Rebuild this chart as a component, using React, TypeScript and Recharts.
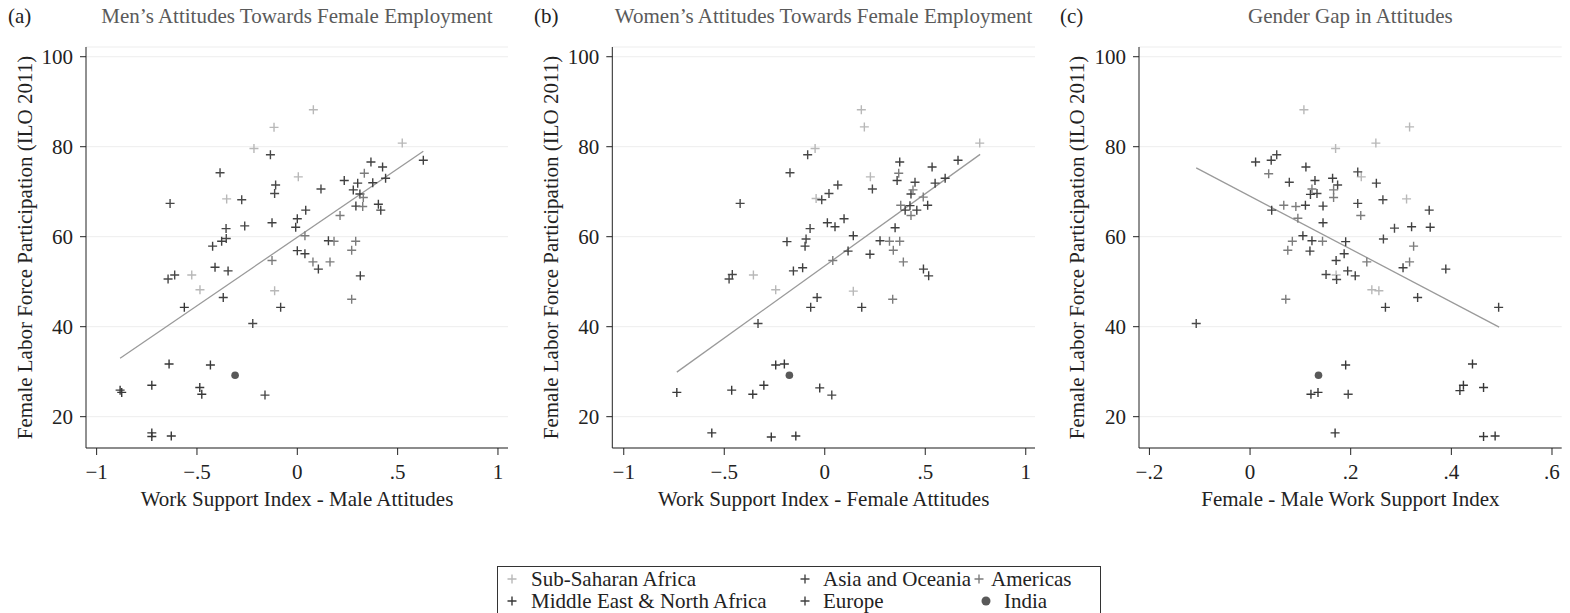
import React from "react";
import { ScatterChart, Scatter, XAxis, YAxis, CartesianGrid, ReferenceLine } from "recharts";

// x, y, region code
type Pt = [number, number, string];

const REGION_CODES = ["S", "M", "A", "E", "R", "I"];
const REGION_NAMES = [
  "Sub-Saharan Africa",
  "Middle East & North Africa",
  "Asia and Oceania",
  "Europe",
  "Americas",
  "India",
];
const REGION_COLORS = ["#b8b8b8", "#383838", "#484848", "#404040", "#7c7c7c", "#595959"];

const PANEL_TAGS = ["(a)", "(b)", "(c)"];
const PANEL_TITLES = [
  "Men\u2019s Attitudes Towards Female Employment",
  "Women\u2019s Attitudes Towards Female Employment",
  "Gender Gap in Attitudes",
];
const X_LABELS = [
  "Work Support Index - Male Attitudes",
  "Work Support Index - Female Attitudes",
  "Female - Male Work Support Index",
];
const Y_LABEL = "Female Labor Force Participation (ILO 2011)";

const Y_TICKS = [20, 40, 60, 80, 100];
const INDEX_TICKS = [-1, -0.5, 0, 0.5, 1];
const GAP_TICKS = [-0.2, 0, 0.2, 0.4, 0.6];

// panel (a): male attitudes vs FLFP
const MALE_PTS: Pt[] = [
  [-0.116, 84.3, "S"], [-0.216, 79.6, "S"], [-0.134, 78.2, "A"], [-0.385, 74.2, "A"],
  [0.005, 73.3, "S"], [-0.108, 71.5, "A"], [-0.113, 69.6, "A"], [-0.634, 67.4, "A"],
  [-0.352, 68.4, "S"], [-0.277, 68.2, "A"], [-0.355, 61.8, "A"], [-0.262, 62.4, "A"],
  [-0.126, 63.1, "E"], [0.0, 64.0, "E"], [-0.008, 62.1, "E"], [-0.354, 59.6, "A"],
  [-0.377, 59.0, "E"], [-0.422, 57.9, "E"], [0.0, 56.9, "E"], [-0.126, 54.7, "R"],
  [-0.41, 53.2, "E"], [-0.345, 52.4, "E"], [-0.644, 50.6, "A"], [-0.611, 51.5, "A"],
  [-0.526, 51.5, "S"], [-0.485, 48.2, "S"], [-0.113, 48.0, "S"], [-0.369, 46.5, "E"],
  [-0.563, 44.3, "M"], [-0.083, 44.3, "E"], [-0.222, 40.7, "A"], [-0.639, 31.7, "M"],
  [-0.433, 31.5, "M"], [-0.31, 29.2, "I"], [-0.725, 27.0, "M"], [-0.883, 25.9, "M"],
  [-0.875, 25.4, "M"], [-0.486, 26.5, "M"], [-0.476, 25.0, "M"], [-0.161, 24.8, "A"],
  [-0.725, 16.4, "M"], [-0.725, 15.6, "M"], [-0.628, 15.7, "M"], [0.08, 88.2, "S"],
  [0.523, 80.8, "S"], [0.628, 77.0, "E"], [0.367, 76.6, "E"], [0.425, 75.5, "E"],
  [0.334, 74.1, "R"], [0.234, 72.5, "E"], [0.301, 71.9, "E"], [0.376, 72.0, "E"],
  [0.44, 73.0, "E"], [0.118, 70.6, "A"], [0.279, 70.4, "E"], [0.312, 69.5, "E"],
  [0.329, 68.7, "R"], [0.292, 66.8, "E"], [0.326, 66.7, "R"], [0.404, 67.2, "E"],
  [0.416, 65.9, "E"], [0.213, 64.7, "R"], [0.042, 65.9, "E"], [0.038, 60.2, "R"],
  [0.155, 59.1, "E"], [0.183, 59.0, "R"], [0.291, 59.0, "R"], [0.271, 57.0, "R"],
  [0.038, 56.2, "E"], [0.078, 54.4, "R"], [0.163, 54.4, "R"], [0.105, 52.8, "E"],
  [0.314, 51.3, "E"], [0.271, 46.1, "R"],
];

// panel (b): female attitudes vs FLFP
const FEMALE_PTS: Pt[] = [
  [-0.048, 79.6, "S"], [-0.085, 78.2, "A"], [-0.173, 74.2, "A"], [-0.421, 67.4, "A"],
  [-0.043, 68.5, "S"], [-0.015, 68.2, "A"], [-0.073, 61.8, "A"], [-0.188, 58.9, "E"],
  [-0.093, 59.5, "A"], [-0.098, 57.9, "E"], [-0.156, 52.4, "E"], [-0.11, 53.1, "E"],
  [-0.46, 51.6, "A"], [-0.476, 50.6, "A"], [-0.355, 51.5, "S"], [-0.244, 48.2, "S"],
  [-0.038, 46.5, "E"], [-0.07, 44.3, "E"], [-0.332, 40.7, "A"], [-0.244, 31.5, "M"],
  [-0.201, 31.7, "M"], [-0.176, 29.2, "I"], [-0.736, 25.4, "M"], [-0.463, 25.9, "M"],
  [-0.358, 25.0, "M"], [-0.303, 27.0, "M"], [-0.025, 26.4, "M"], [-0.562, 16.4, "M"],
  [-0.266, 15.5, "M"], [-0.144, 15.7, "M"], [0.182, 88.2, "S"], [0.197, 84.4, "S"],
  [0.771, 80.8, "S"], [0.663, 77.0, "E"], [0.373, 76.6, "E"], [0.534, 75.5, "E"],
  [0.368, 74.1, "R"], [0.36, 72.5, "E"], [0.449, 72.1, "A"], [0.549, 71.9, "E"],
  [0.599, 73.0, "E"], [0.227, 73.3, "S"], [0.237, 70.6, "A"], [0.065, 71.5, "A"],
  [0.021, 69.6, "A"], [0.429, 69.5, "E"], [0.439, 70.4, "R"], [0.49, 68.8, "R"],
  [0.378, 67.0, "R"], [0.4, 65.9, "E"], [0.424, 66.9, "E"], [0.458, 65.9, "E"],
  [0.512, 67.0, "E"], [0.429, 64.7, "R"], [0.013, 63.1, "E"], [0.051, 62.2, "E"],
  [0.096, 64.0, "E"], [0.35, 62.0, "E"], [0.142, 60.2, "E"], [0.275, 59.1, "E"],
  [0.322, 59.0, "R"], [0.373, 59.0, "R"], [0.341, 57.0, "R"], [0.116, 56.8, "E"],
  [0.225, 56.1, "E"], [0.04, 54.7, "R"], [0.391, 54.4, "R"], [0.491, 52.8, "E"],
  [0.517, 51.3, "E"], [0.142, 47.9, "S"], [0.338, 46.1, "R"], [0.184, 44.3, "E"],
  [0.035, 24.8, "A"],
];

// panel (c): female - male gap vs FLFP
const GAP_PTS: Pt[] = [
  [0.107, 88.2, "S"], [0.17, 79.6, "S"], [0.011, 76.6, "E"], [0.042, 77.0, "E"],
  [0.053, 78.2, "A"], [0.111, 75.5, "E"], [0.037, 74.0, "R"], [0.078, 72.1, "A"],
  [0.129, 72.5, "E"], [0.164, 73.0, "E"], [0.174, 71.5, "A"], [0.123, 70.6, "R"],
  [0.12, 69.4, "E"], [0.133, 69.6, "A"], [0.166, 70.4, "R"], [0.166, 68.7, "R"],
  [0.067, 67.0, "R"], [0.091, 66.7, "R"], [0.11, 67.0, "E"], [0.145, 66.8, "E"],
  [0.043, 65.9, "E"], [0.095, 64.1, "R"], [0.145, 63.1, "E"], [0.105, 60.2, "E"],
  [0.084, 59.0, "R"], [0.123, 59.1, "E"], [0.144, 59.0, "R"], [0.19, 58.9, "E"],
  [0.075, 57.0, "R"], [0.119, 56.8, "E"], [0.187, 56.2, "E"], [0.171, 54.7, "E"],
  [0.151, 51.6, "A"], [0.171, 51.5, "S"], [0.172, 50.5, "A"], [0.194, 52.4, "E"],
  [0.071, 46.1, "R"], [-0.107, 40.7, "A"], [0.19, 31.5, "M"], [0.136, 29.2, "I"],
  [0.121, 25.0, "M"], [0.135, 25.4, "M"], [0.195, 25.0, "A"], [0.169, 16.4, "M"],
  [0.317, 84.4, "S"], [0.25, 80.8, "S"], [0.214, 74.4, "A"], [0.221, 73.3, "S"],
  [0.251, 71.9, "E"], [0.214, 67.4, "A"], [0.264, 68.2, "A"], [0.311, 68.4, "S"],
  [0.356, 65.9, "E"], [0.22, 64.7, "R"], [0.287, 61.9, "A"], [0.321, 62.2, "E"],
  [0.358, 62.1, "E"], [0.265, 59.5, "A"], [0.325, 57.9, "R"], [0.232, 54.4, "R"],
  [0.317, 54.4, "R"], [0.304, 53.1, "E"], [0.389, 52.8, "E"], [0.209, 51.3, "E"],
  [0.242, 48.2, "S"], [0.256, 48.0, "S"], [0.269, 44.3, "E"], [0.333, 46.5, "E"],
  [0.494, 44.3, "E"], [0.442, 31.7, "M"], [0.417, 25.8, "M"], [0.424, 27.0, "M"],
  [0.464, 26.5, "M"], [0.464, 15.6, "M"], [0.487, 15.7, "M"],
];

// fitted lines: [start, end]
const MALE_FIT = [[-0.883, 33.0], [0.628, 79.0]];
const FEMALE_FIT = [[-0.736, 29.9], [0.773, 78.3]];
const GAP_FIT = [[-0.107, 75.3], [0.495, 39.9]];

const FONT = "'Liberation Serif', 'Times New Roman', serif";
const Y_DOMAIN = [13.04, 102.16];

const PANELS = [
  { left: 0, width: 520, yw: 86, right: 12, xDomain: [-1.053, 1.05], ticks: INDEX_TICKS, pts: MALE_PTS, fit: MALE_FIT },
  { left: 526, width: 520, yw: 86.3, right: 11, xDomain: [-1.057, 1.046], ticks: INDEX_TICKS, pts: FEMALE_PTS, fit: FEMALE_FIT },
  { left: 1052, width: 518, yw: 87, right: 8.3, xDomain: [-0.2207, 0.6193], ticks: GAP_TICKS, pts: GAP_PTS, fit: GAP_FIT },
];

// legend rows: [region index, marker x, text x]
const LEGEND_ROWS = [
  [[0, 14, 33], [2, 307, 325], [4, 481, 493]],
  [[1, 14, 33], [3, 307, 325], [5, 488, 506]],
];

const TEXT_STYLE = { fontSize: 21, fill: "#222", fontFamily: FONT };

function fmtTick(v: number) {
  if (v === 0) return "0";
  const s = Math.abs(v).toString().replace(/^0\./, ".");
  return (v < 0 ? "\u2212" : "") + s;
}

function plusShape(color: string) {
  return (props: any) => {
    const { cx, cy } = props;
    if (cx == null || cy == null) return <g />;
    return (
      <path
        d={`M${cx - 4.5},${cy}H${cx + 4.5}M${cx},${cy - 4.5}V${cy + 4.5}`}
        stroke={color}
        strokeWidth={1.4}
        fill="none"
      />
    );
  };
}

function dotShape(color: string) {
  return (props: any) => <circle cx={props.cx} cy={props.cy} r={3.8} fill={color} />;
}

function Panel({ idx }: { idx: number }) {
  const p = PANELS[idx];
  const plotL = p.left + p.yw;
  const plotR = p.left + p.width - p.right;
  const center = (plotL + plotR) / 2;
  return (
    <>
      <div style={{ position: "absolute", left: p.left + 8, top: 4, fontSize: 21, lineHeight: "24px", color: "#222" }}>
        {PANEL_TAGS[idx]}
      </div>
      <div
        style={{
          position: "absolute",
          left: center - 300,
          width: 600,
          top: 4,
          textAlign: "center",
          fontSize: 21,
          lineHeight: "24px",
          color: "#5a5a5a",
        }}
      >
        {PANEL_TITLES[idx]}
      </div>
      <div style={{ position: "absolute", left: p.left, top: 0 }}>
        <ScatterChart
          width={p.width}
          height={520}
          margin={{ top: 47, right: p.right, bottom: 12, left: 0 }}
          style={{ fontFamily: FONT }}
        >
          <CartesianGrid vertical={false} stroke="#ededed" />
          <XAxis
            type="number"
            dataKey="x"
            domain={p.xDomain}
            ticks={p.ticks}
            interval={0}
            tickFormatter={fmtTick}
            height={60}
            tickSize={7}
            tickMargin={9}
            axisLine={{ stroke: "#222" }}
            tickLine={{ stroke: "#222" }}
            tick={TEXT_STYLE}
            label={{ value: X_LABELS[idx], position: "insideBottom", offset: 2, style: TEXT_STYLE }}
          />
          <YAxis
            type="number"
            dataKey="y"
            domain={Y_DOMAIN}
            ticks={Y_TICKS}
            interval={0}
            width={p.yw}
            tickSize={6}
            tickMargin={7}
            axisLine={{ stroke: "#222" }}
            tickLine={{ stroke: "#222" }}
            tick={TEXT_STYLE}
            label={{
              value: Y_LABEL,
              angle: -90,
              position: "insideLeft",
              offset: 25,
              style: { ...TEXT_STYLE, textAnchor: "middle" },
            }}
          />
          <ReferenceLine
            segment={[
              { x: p.fit[0][0], y: p.fit[0][1] },
              { x: p.fit[1][0], y: p.fit[1][1] },
            ]}
            stroke="#9a9a9a"
            strokeWidth={1.3}
          />
          {REGION_CODES.map((code, i) => (
            <Scatter
              key={code}
              name={REGION_NAMES[i]}
              data={p.pts.filter((d) => d[2] === code).map((d) => ({ x: d[0], y: d[1] }))}
              shape={code === "I" ? dotShape(REGION_COLORS[i]) : plusShape(REGION_COLORS[i])}
              isAnimationActive={false}
            />
          ))}
        </ScatterChart>
      </div>
    </>
  );
}

function LegendBox() {
  return (
    <div
      style={{
        position: "absolute",
        left: 497,
        top: 566,
        width: 604,
        height: 60,
        border: "1px solid #333",
        boxSizing: "border-box",
      }}
    >
      {LEGEND_ROWS.map((row, r) =>
        row.map(([ri, mx, tx]) => {
          const cy = 12 + r * 22;
          const color = REGION_COLORS[ri];
          return (
            <React.Fragment key={`${r}-${ri}`}>
              <svg style={{ position: "absolute", left: mx - 7, top: cy - 7 }} width={14} height={14}>
                {REGION_CODES[ri] === "I" ? (
                  <circle cx={7} cy={7} r={4.5} fill={color} />
                ) : (
                  <path d="M2.5,7H11.5M7,2.5V11.5" stroke={color} strokeWidth={1.4} />
                )}
              </svg>
              <div
                style={{
                  position: "absolute",
                  left: tx,
                  top: cy - 9,
                  fontSize: 21,
                  lineHeight: "18px",
                  color: "#222",
                  whiteSpace: "nowrap",
                }}
              >
                {REGION_NAMES[ri]}
              </div>
            </React.Fragment>
          );
        })
      )}
    </div>
  );
}

export default function App() {
  return (
    <div
      style={{
        position: "absolute",
        left: 0,
        top: 0,
        width: 1570,
        height: 613,
        overflow: "hidden",
        background: "#fff",
        fontFamily: FONT,
      }}
    >
      {[0, 1, 2].map((i) => (
        <Panel key={i} idx={i} />
      ))}
      <LegendBox />
    </div>
  );
}
